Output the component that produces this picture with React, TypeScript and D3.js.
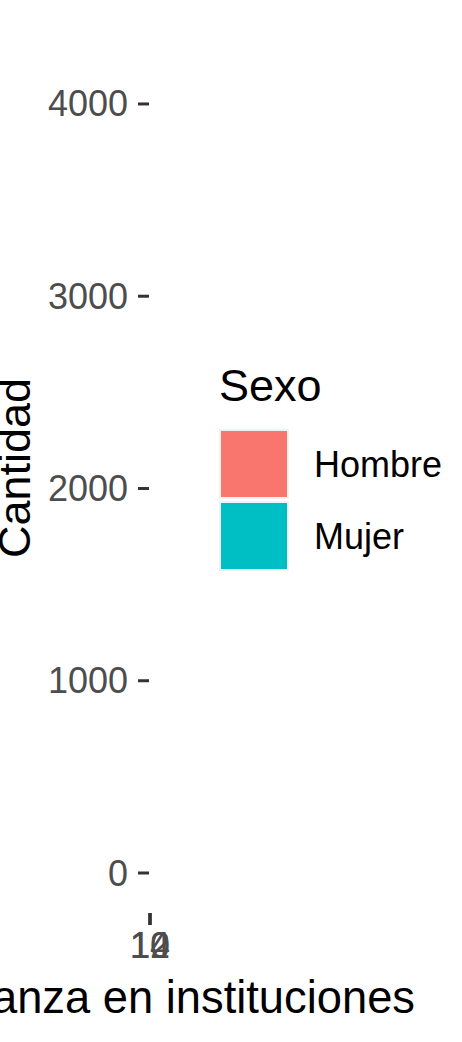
import { useEffect, useRef } from 'react';
import * as d3 from 'd3';

const categories = ['10', '12', '14'];
const hombre = [1150, 1980, 620];
const mujer = [1240, 2077, 700];
const yTicks = [0, 1000, 2000, 3000, 4000];
const sexos = ['Hombre', 'Mujer'];
const colors = ['#F8766D', '#00BFC4'];

export default function App() {
  const svgRef = useRef<SVGSVGElement>(null);

  useEffect(() => {
    if (!svgRef.current) return;
    const width = 462;
    const height = 1042;
    // the panel collapsed to nothing in the original, all categories sit at x = 150
    const panel = { left: 150, right: 150, top: 54, bottom: 912 };
    const font = '"Liberation Sans", Arial, sans-serif';

    const svg = d3.select(svgRef.current);
    svg.selectAll('*').remove();
    svg.attr('width', width).attr('height', height);

    const totals = categories.map((_, i) => hombre[i] + mujer[i]);
    const maxTotal = d3.max(totals) ?? 0;
    const pad = maxTotal * 0.05;

    const x = d3.scaleBand<string>().domain(categories).range([panel.left, panel.right]).padding(0.1);
    const y = d3.scaleLinear().domain([-pad, maxTotal + pad]).range([panel.bottom, panel.top]);

    // Stacked bars (zero width, as in the original)
    const rows = categories.map((c, i) => ({ cat: c, Hombre: hombre[i], Mujer: mujer[i] }));
    const stack = d3.stack<any>().keys(sexos)(rows);
    stack.forEach((layer, li) => {
      svg.append('g')
        .selectAll('rect')
        .data(layer)
        .join('rect')
        .attr('x', (d) => x(d.data.cat) ?? 0)
        .attr('width', x.bandwidth())
        .attr('y', (d) => y(d[1]))
        .attr('height', (d) => y(d[0]) - y(d[1]))
        .attr('fill', colors[li]);
    });

    // Y axis
    const yAxis = svg.append('g');
    yTicks.forEach((t) => {
      yAxis.append('line')
        .attr('x1', 138).attr('x2', 149)
        .attr('y1', y(t)).attr('y2', y(t))
        .attr('stroke', '#333333').attr('stroke-width', 3);
      yAxis.append('text')
        .attr('x', 128).attr('y', y(t))
        .attr('text-anchor', 'end').attr('dominant-baseline', 'central')
        .style('font-family', font).style('font-size', '36px')
        .style('fill', '#4D4D4D')
        .text(d3.format('d')(t));
    });

    // X axis
    const xAxis = svg.append('g');
    categories.forEach((c) => {
      const cx = (x(c) ?? 0) + x.bandwidth() / 2;
      xAxis.append('line')
        .attr('x1', cx).attr('x2', cx)
        .attr('y1', panel.bottom + 1).attr('y2', panel.bottom + 13)
        .attr('stroke', '#333333').attr('stroke-width', 3);
      xAxis.append('text')
        .attr('x', cx).attr('y', 958)
        .attr('text-anchor', 'middle')
        .style('font-family', font).style('font-size', '36px')
        .style('fill', '#4D4D4D')
        .text(c);
    });

    // Axis titles
    svg.append('text')
      .attr('x', 415).attr('y', 1013)
      .attr('text-anchor', 'end')
      .style('font-family', font).style('font-size', '45.3px')
      .style('fill', '#000')
      .text('Confianza en instituciones');

    svg.append('text')
      .attr('transform', `translate(30,468) rotate(-90)`)
      .attr('text-anchor', 'middle')
      .style('font-family', font).style('font-size', '45px')
      .style('fill', '#000')
      .text('Cantidad');

    // Legend
    const lg = svg.append('g');
    lg.append('text')
      .attr('x', 219).attr('y', 401)
      .style('font-family', font).style('font-size', '45px')
      .style('fill', '#000')
      .text('Sexo');
    sexos.forEach((s, i) => {
      const top = 429 + i * 72;
      lg.append('rect')
        .attr('x', 220).attr('y', top + 1)
        .attr('width', 68).attr('height', 68)
        .attr('fill', colors[i])
        .attr('stroke', '#F2F2F2').attr('stroke-width', 2);
      lg.append('text')
        .attr('x', 314).attr('y', top + 35)
        .attr('dominant-baseline', 'central')
        .style('font-family', font).style('font-size', '36px')
        .style('fill', '#000')
        .text(s);
    });
  }, []);

  return <svg ref={svgRef} style={{ position: 'absolute', left: 0, top: 0 }} />;
}
